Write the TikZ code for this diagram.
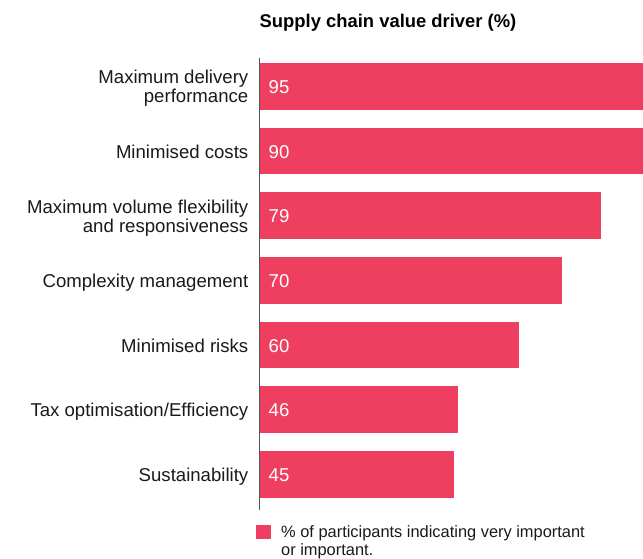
\documentclass[tikz,border=0pt]{standalone}
\usepackage{fontspec}
\setmainfont{Liberation Sans}
\definecolor{barred}{HTML}{EF3F61}
\definecolor{axisgray}{HTML}{555555}
\definecolor{txt}{HTML}{1A1A1A}
\begin{document}
\begin{tikzpicture}[x=1pt,y=-1pt,
  bar/.style={fill=barred,draw=none},
  lab/.style={anchor=base east,inner sep=0pt,text=txt,font=\fontsize{18.6}{19}\selectfont},
  val/.style={anchor=base west,inner sep=0pt,text=white,font=\fontsize{18.6}{19}\selectfont},
  legtxt/.style={anchor=base west,inner sep=0pt,text=txt,font=\fontsize{16.4}{18}\selectfont}]
\useasboundingbox (0,0) rectangle (643,558);
\node[anchor=base west,inner sep=0pt,text=black,font=\fontsize{18.4}{20}\selectfont\bfseries] (title) at (259.5,27) {Supply chain value driver (\%)};
% bars: top y = 63 + i*64.67, height 46.7, scale 4.31 per unit from x=260
\foreach \i/\v/\w in {0/95/643,1/90/643,2/79/600.5,3/70/561.7,4/60/518.6,5/46/458.3,6/45/453.9}{
  \pgfmathsetmacro{\yt}{63+\i*64.67}
  \pgfmathsetmacro{\yb}{\yt+46.7}
  \pgfmathsetmacro{\yv}{\yt+23.35+7}
  \fill[bar] (260,\yt) rectangle (\w,\yb);
  \node[val] (v\i) at (268.5,\yv) {\v};
}
\node[lab] (l0a) at (248.5,83.5) {Maximum delivery};
\node[lab] (l0b) at (248.5,102.5) {performance};
\node[lab] (l1) at (248.5,158) {Minimised costs};
\node[lab] (l2a) at (248.5,213) {Maximum volume flexibility};
\node[lab] (l2b) at (248.5,232) {and responsiveness};
\node[lab] (l3) at (248.5,287.3) {Complexity management};
\node[lab] (l4) at (248.5,352) {Minimised risks};
\node[lab] (l5) at (248.5,416.7) {Tax optimisation/Efficiency};
\node[lab] (l6) at (248.5,481.3) {Sustainability};
\coordinate (axtop) at (259.3,58);
\coordinate (axbot) at (259.3,510);
\draw[axisgray,line width=1.6pt] (axtop) -- (axbot);
\fill[bar] (256,525) rectangle (270.7,539);
\node[legtxt] (leg1) at (281,537) {\% of participants indicating very important};
\node[legtxt] (leg2) at (281,555) {or important.};
\end{tikzpicture}
\end{document}
